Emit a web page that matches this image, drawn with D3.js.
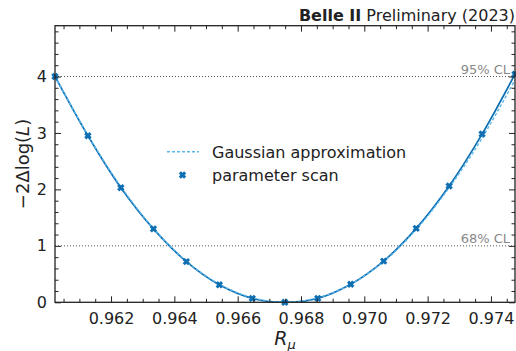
<!DOCTYPE html>
<html>
<head>
<meta charset="utf-8">
<script src="https://cdn.jsdelivr.net/npm/d3@7"></script>
<style>
html,body{margin:0;padding:0;background:#fff;}
svg{display:block;font-family:"DejaVu Sans",sans-serif;}
</style>
</head>
<body>
<svg id="c" width="516" height="351"></svg>
<script>
// ---- data ----
const scanX = [0.96023,0.96127,0.96231,0.96334,0.96438,0.96542,0.96646,0.96749,0.96853,0.96957,0.97061,0.97164,0.97268,0.97372,0.97476];
const scanY = [4.00,2.95,2.03,1.30,0.72,0.31,0.07,0.00,0.07,0.32,0.73,1.31,2.06,2.98,4.04];
const gaussY = [4.00,2.96,2.05,1.31,0.73,0.32,0.08,0.00,0.08,0.32,0.72,1.29,2.03,2.91,3.94];
const xTicks = [0.962,0.964,0.966,0.968,0.970,0.972,0.974];
const yTicks = [0,1,2,3,4];
const clLevels = [1,4];
const clLabels = ["68% CL","95% CL"];
const xDomain = [0.96023,0.97476];
const yDomain = [0,4.9];

const svg = d3.select("#c");
const m = {l:55, r:1, t:25.7, b:48.7};
const W = 516, H = 351;
const x = d3.scaleLinear().domain(xDomain).range([m.l, W-m.r]);
const y = d3.scaleLinear().domain(yDomain).range([H-m.b, m.t]);
const scanC = "#0f6fb3", gaussC = "#5bb7e8", axC = "#222";

// CL lines
clLevels.forEach((v,i)=>{
  svg.append("line").attr("x1",x.range()[0]).attr("x2",x.range()[1])
    .attr("y1",y(v)).attr("y2",y(v))
    .attr("stroke","#555").attr("stroke-width",1).attr("stroke-dasharray","1,2");
  svg.append("text").attr("x",x.range()[1]-5).attr("y",y(v)-3)
    .attr("text-anchor","end").attr("font-size",13).attr("fill","#888").text(clLabels[i]);
});

// clip
svg.append("clipPath").attr("id","clip").append("rect")
  .attr("x",m.l).attr("y",m.t).attr("width",W-m.r-m.l).attr("height",H-m.b-m.t);

const g = svg.append("g").attr("clip-path","url(#clip)");
const gaussData = scanX.map((d,i)=>[d,gaussY[i]]);
const scanData = scanX.map((d,i)=>[d,scanY[i]]);

g.append("path").datum(scanData)
  .attr("d",d3.line().x(d=>x(d[0])).y(d=>y(d[1])).curve(d3.curveCatmullRom))
  .attr("fill","none").attr("stroke",scanC).attr("stroke-width",1.7);
g.append("path").datum(gaussData)
  .attr("d",d3.line().x(d=>x(d[0])).y(d=>y(d[1])).curve(d3.curveCatmullRom))
  .attr("fill","none").attr("stroke",gaussC).attr("stroke-width",1.4).attr("stroke-dasharray","3,2");

const cross = d3.symbol().type(d3.symbolX).size(20);
svg.append("g").selectAll("path").data(scanData).join("path")
  .attr("transform",d=>`translate(${x(d[0])},${y(d[1])})`)
  .attr("d",cross).attr("fill",scanC).attr("stroke",scanC).attr("stroke-width",3);

// axes frame & ticks
const xMinor = d3.range(0.9605,0.9748,0.0005).filter(v=>!xTicks.some(t=>Math.abs(t-v)<1e-7));
const yMinor = d3.range(0.2,4.9,0.2).filter(v=>!yTicks.some(t=>Math.abs(t-v)<1e-7));

function drawAxis(axisGen, tr, vals, size, labels){
  const a = svg.append("g").attr("transform",tr)
    .call(axisGen.tickValues(vals).tickSize(size).tickSizeOuter(0).tickFormat(labels?null:""));
  a.select(".domain").remove();
  a.selectAll(".tick line").attr("stroke",axC).attr("stroke-width",1);
  a.selectAll(".tick text").attr("font-size",16).attr("fill",axC).attr("font-family","DejaVu Sans");
  return a;
}
const bY = H-m.b, tY = m.t, lX = m.l, rX = W-m.r;
// bottom
const bx = drawAxis(d3.axisBottom(x), `translate(0,${bY})`, xTicks, -6, true);
bx.selectAll(".tick text").attr("y",10).attr("dy","0.71em").text(d=>d3.format(".3f")(d));
drawAxis(d3.axisBottom(x), `translate(0,${bY})`, xMinor, -3.5, false);
drawAxis(d3.axisTop(x), `translate(0,${tY})`, xTicks, -6, false);
drawAxis(d3.axisTop(x), `translate(0,${tY})`, xMinor, -3.5, false);
// left
const ly = drawAxis(d3.axisLeft(y), `translate(${lX},0)`, yTicks, -6, true);
ly.selectAll(".tick text").attr("x",-8).text(d=>d3.format("d")(d));
drawAxis(d3.axisLeft(y), `translate(${lX},0)`, yMinor, -3.5, false);
drawAxis(d3.axisRight(y), `translate(${rX},0)`, yTicks, -6, false);
drawAxis(d3.axisRight(y), `translate(${rX},0)`, yMinor, -3.5, false);

svg.append("rect").attr("x",lX).attr("y",tY).attr("width",rX-lX).attr("height",bY-tY)
  .attr("fill","none").attr("stroke",axC).attr("stroke-width",1.3);

// axis labels
svg.append("text").attr("transform",`translate(29,${(tY+bY)/2}) rotate(-90)`)
  .attr("text-anchor","middle").attr("font-size",18).attr("fill",axC)
  .html('−2Δlog(<tspan font-style="italic">L</tspan>)');
svg.append("text").attr("x",(lX+rX)/2).attr("y",345).attr("text-anchor","middle")
  .attr("font-size",19).attr("fill",axC)
  .html('<tspan font-style="italic">R</tspan><tspan font-style="italic" font-size="13" dy="4">μ</tspan>');

// title
svg.append("text").attr("x",rX).attr("y",20.5).attr("text-anchor","end")
  .attr("font-size",16).attr("fill",axC)
  .html('<tspan font-weight="bold">Belle II</tspan> Preliminary (2023)');

// legend
const lg = svg.append("g");
lg.append("line").attr("x1",167).attr("x2",199).attr("y1",151.7).attr("y2",151.7)
  .attr("stroke",gaussC).attr("stroke-width",1.4).attr("stroke-dasharray","3,2");
lg.append("text").attr("x",212).attr("y",157.5).attr("font-size",16).attr("fill",axC).text("Gaussian approximation");
lg.append("path").attr("transform","translate(182.5,175)").attr("d",cross)
  .attr("fill",scanC).attr("stroke",scanC).attr("stroke-width",3);
lg.append("text").attr("x",212).attr("y",181).attr("font-size",16).attr("fill",axC).text("parameter scan");
</script>
</body>
</html>
